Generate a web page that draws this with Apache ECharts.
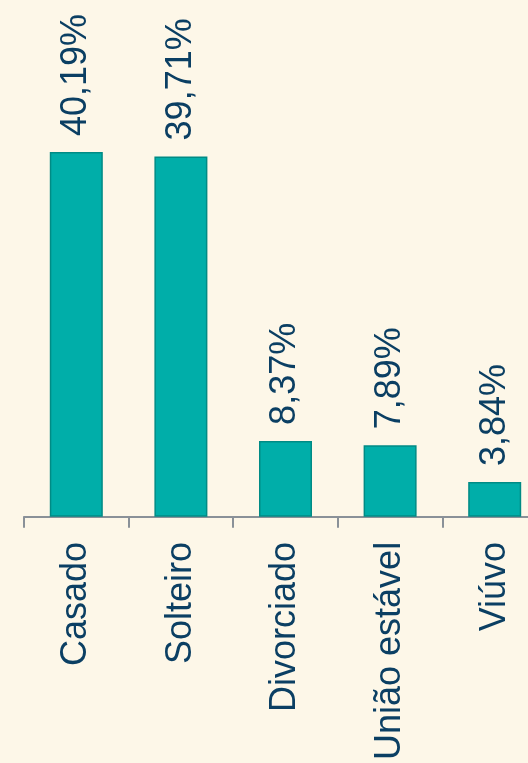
<!DOCTYPE html>
<html>
<head>
<meta charset="utf-8">
<script src="https://cdn.jsdelivr.net/npm/echarts@6/dist/echarts.min.js"></script>
<style>
html,body{margin:0;padding:0;background:#fdf7e8;overflow:hidden;width:528px;height:763px;}
#c{width:548px;height:763px;}
</style>
</head>
<body>
<div id="c"></div>
<script>
var categories = ['Casado', 'Solteiro', 'Divorciado', 'União estável', 'Viúvo'];
var values = [40.19, 39.71, 8.37, 7.89, 3.84];

var chart = echarts.init(document.getElementById('c'));
chart.setOption({
  backgroundColor: '#fdf7e8',
  animation: false,
  grid: {left: 24, right: 1, top: 63, bottom: 246, containLabel: false},
  xAxis: {
    type: 'category',
    data: categories,
    axisLine: {lineStyle: {color: '#8a9198', width: 2}},
    axisTick: {show: true, length: 11, lineStyle: {color: '#8a9198', width: 2}},
    axisLabel: {
      rotate: 90, margin: 25, interval: 0,
      color: '#0b3f63', fontSize: 36, fontFamily: 'Liberation Sans, Arial, sans-serif'
    }
  },
  yAxis: {
    type: 'value', min: 0, max: 50,
    show: false
  },
  series: [{
    type: 'bar',
    data: values,
    barWidth: 53,
    itemStyle: {color: '#00aea9', borderColor: '#008b85', borderWidth: 1.5},
    label: {
      show: true, position: 'top', rotate: 90, align: 'left', verticalAlign: 'middle',
      distance: 16,
      color: '#0b3f63', fontSize: 36, fontFamily: 'Liberation Sans, Arial, sans-serif',
      formatter: function (p) { return p.value.toFixed(2).replace('.', ',') + '%'; }
    }
  }]
});
</script>
</body>
</html>
